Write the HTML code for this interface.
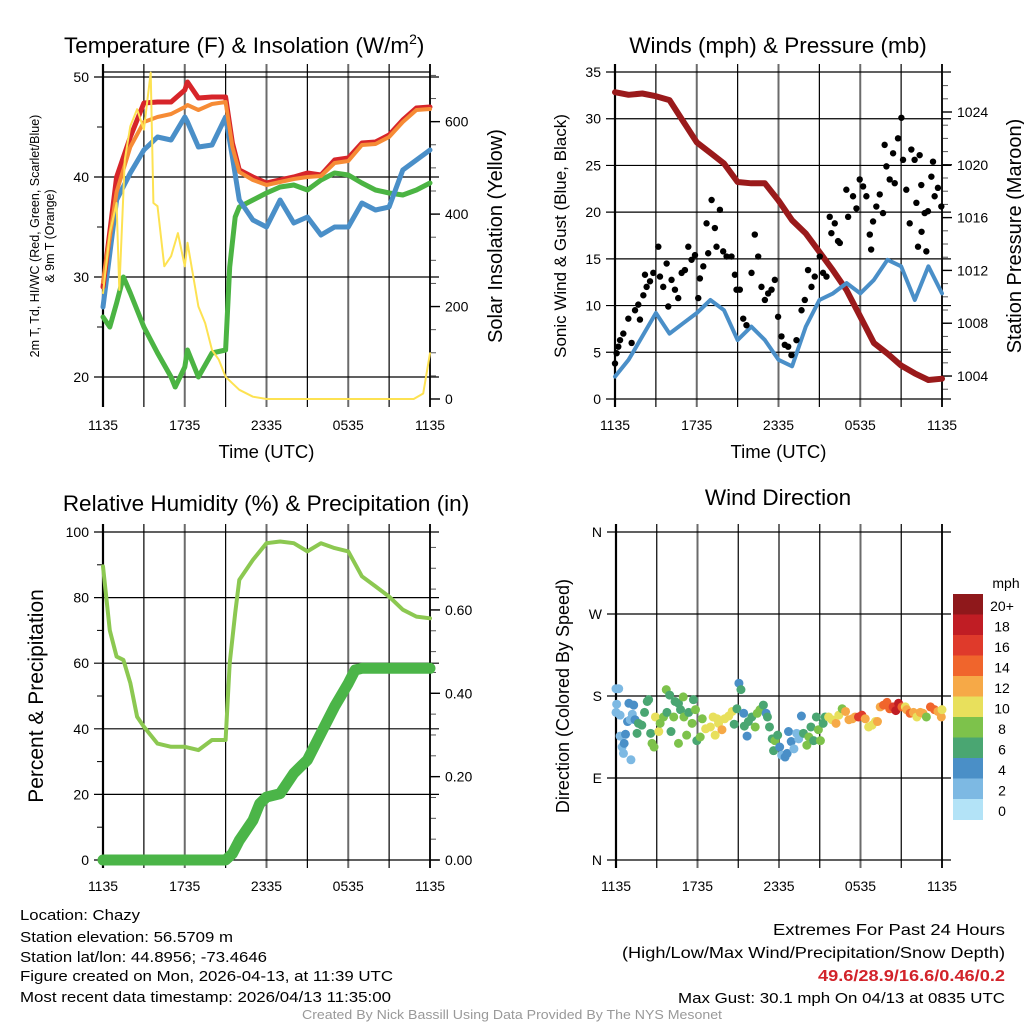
<!DOCTYPE html>
<html><head><meta charset="utf-8"><style>
html,body{margin:0;padding:0;background:#fff;}
svg{display:block;font-family:"Liberation Sans",sans-serif;}
</style></head><body>
<svg id="chart" width="1024" height="1024" viewBox="0 0 1024 1024">
<g id="static"></g>
</svg>
<script>
// ---------- DATA ----------
const timeTicks=[0,6,12,18,24];
const timeTickLabels=["1135","1735","2335","0535","1135"];
// Temperature panel
const tempHours=[0,1,2,3,4,5,6,6.2,7,8,9,9.5,10,11,12,13,14,15,16,17,18,19,20,21,22,23,24];
const tempRed=[29,40,44,47.4,47.5,47.5,48.7,49.5,47.9,48,48,43.4,40.7,40,39.4,39.7,40,40.4,40.2,41.7,41.9,43.4,43.5,44.2,45.7,46.9,47];
const tempOrange=[29.5,38.5,43,45.5,46,46.3,47,47.2,46.7,47.3,47.5,43,40.5,39.7,39.2,39.5,39.8,40,40.1,41.4,41.6,43.2,43.3,44,45.5,46.7,46.8];
const tempBlue=[27,37.7,40.4,42.7,44,43.7,46,45.5,43,43.2,46,42,37.7,35.7,35,37.7,35.4,36,34.2,35,35,37.4,36.7,37,40.7,41.7,42.7];
const greenHours=[0,0.5,1,1.5,2,3,4,5,5.3,6,6.2,7,8,9,9.3,9.7,10,11,12,13,14,15,16,17,18,19,20,21,22,23,24];
const dewGreen=[26,25,27.4,30,28.4,25,22.4,20,19,21,22.7,20,22.4,22.7,31,36,37,37.7,38.4,39,39.2,38.7,39.7,40.4,40.2,39.4,38.7,38.4,38.2,38.7,39.4];
const solarHours=[0,0.5,1,1.2,1.6,2,2.5,3,3.5,3.7,4,4.5,5,5.5,6,6.2,7,7.5,8,8.5,9,9.5,10,11,12,22.8,23.5,24];
const solarVals=[229,359,424,236,518,590,627,583,706,424,417,287,309,359,287,338,200,164,106,85,48,34,20,5,0,0,12,99];
// Winds panel
const windHours=[0,1,2,3,4,5,6,7,8,9,10,11,12,13,14,15,16,17,18,19,20,21,22,23,24];
const windSpeed=[2.4,4.2,6.7,9.2,7,8.1,9.2,10.6,9.5,6.3,7.75,6.3,4.2,3.5,7.75,10.6,11.3,12.4,11.3,12.75,14.9,14.2,10.6,14.2,11.3];
const pressure=[1025.5,1025.3,1025.4,1025.2,1024.9,1023.3,1021.7,1020.9,1020.1,1018.7,1018.6,1018.6,1017.3,1015.8,1014.8,1013.4,1012.0,1010.5,1008.5,1006.5,1005.7,1004.8,1004.2,1003.7,1003.8];
const gustHours=[0,0.12,0.24,0.37,0.61,0.98,1.22,1.47,1.71,1.83,2.08,2.2,2.32,2.57,2.81,3.18,3.3,3.54,3.79,3.91,4.15,4.4,4.64,4.89,5.13,5.38,5.62,5.87,6.11,6.23,6.48,6.72,6.84,7.09,7.33,7.45,7.7,7.94,8.19,8.55,8.8,8.92,9.16,9.41,9.65,10.02,10.26,10.51,10.75,11,11.24,11.49,11.73,11.97,12.22,12.46,12.71,12.95,13.32,13.69,13.93,14.17,14.42,14.66,15.03,15.27,15.52,15.76,15.88,16.13,16.37,16.5,16.98,17.11,17.47,17.72,17.96,18.21,18.45,18.7,18.8,18.94,19.18,19.43,19.67,19.79,19.92,20.16,20.41,20.53,20.77,21.02,21.14,21.38,21.63,21.75,21.99,22.12,22.24,22.36,22.48,22.5,22.73,22.85,22.97,23.22,23.34,23.46,23.7,23.95];
const gustVals=[3.8,4.9,5.6,6.3,7,8.6,6,9.5,10.1,8.5,11.1,13.3,12,12.6,13.5,16.3,13.1,12,14.5,9.9,12.75,11.7,10.8,13.5,13.8,16.3,14.9,15.4,10.8,12.9,14.2,18.8,15.6,21.3,18.3,16.3,20.25,15.8,15.25,15.25,13.3,11.7,11.7,8.6,7.9,13.5,17.6,15.25,12,10.6,11.3,11.7,12.75,8.8,6.7,5.8,5.6,4.7,6.3,9.5,10.6,13.8,12,13.1,15.25,13.5,13.1,19.5,17.75,18.8,16.9,16.7,22.4,19.5,21.7,20.4,23.5,22.75,21.7,17.6,16,19,20.6,21.9,19.9,27.2,24.9,23.5,26.3,23.1,27.9,30.1,25.6,22.4,18.8,26.7,25.6,21,16.3,26.1,22.9,17.9,19.9,15.8,20.1,23.8,25.4,21.7,22.6,20.6];
// RH / precip panel
const rhHours=[0,0.5,1,1.5,2,2.5,3,4,5,6,7,8,9,9.3,9.7,10,11,12,13,14,15,16,17,18,19,20,21,22,23,24];
const rhVals=[89.5,70,62,61,54,43.7,40.6,35.5,34.5,34.5,33.5,36.6,36.6,60,75.3,85.4,91.5,96.6,97.1,96.6,94.1,96.6,95.1,94.1,86.5,83.4,80.3,76.3,74.2,73.7];
const precipHours=[0,9,9.5,10,11,11.5,12,13,14,14.5,15,16,17,18,18.5,19,24];
const precipVals=[0,0,0.015,0.047,0.095,0.135,0.151,0.159,0.208,0.224,0.24,0.304,0.368,0.424,0.456,0.46,0.46];
// Wind direction panel
const dirHours=[0,0.2,0.05,0,0.3,0.3,0.45,0.55,1.1,0.7,0.6,0.85,0.95,1.3,1.2,1.05,1.4,1.65,1.55,1.9,2.1,2.3,2.4,2.55,2.65,2.8,2.9,3.15,3.25,3.5,3.7,3.75,3.95,4.05,4.25,4.35,4.6,4.75,4.6,4.95,5,5.2,5.35,5.6,5.7,5.85,5.95,6.2,6.35,6.6,6.95,7.15,7.3,7.45,7.55,7.8,8,8.3,8.55,8.7,8.9,9.05,9.2,9.4,9.45,9.65,9.75,10,10.25,10.4,10.6,10.85,11.05,11.15,11.3,11.5,11.6,11.7,11.9,12.05,12.2,12.45,12.6,12.7,12.9,13.1,13.3,13.45,13.65,13.8,14.05,14.2,14.35,14.55,14.75,14.9,15.05,15.25,15.4,15.65,15.9,16.2,16.4,16.65,16.9,17.15,17.4,17.6,17.85,18.1,18.35,18.6,18.85,19.1,19.25,19.45,19.7,19.95,20.15,20.4,20.6,20.8,21.05,21.3,21.4,21.65,21.9,22.15,22.4,22.6,22.85,23.15,23.45,23.7,23.95,24];
const dirDeg=[188,188,171,162,159,136,124,117,110,138,128,152,172,170,160,154,154,150,139,148,162,174,176,139,128,124,157,141,150,157,187,162,181,141,157,174,172,165,128,179,157,137,162,150,176,165,131,135,155,144,146,157,137,155,150,143,155,158,163,149,166,194,187,161,147,136,152,157,146,161,165,170,161,157,146,133,120,131,137,124,115,113,117,141,130,122,139,133,158,139,126,135,146,131,157,143,131,150,157,157,154,150,159,166,163,154,155,157,157,159,155,146,148,152,152,168,170,173,166,168,164,172,168,168,165,161,162,157,162,161,157,168,165,163,157,165];
const dirSpeed=[2.5,2.5,2.5,2.5,2.5,2.5,2.5,2.5,2.5,4,4,4,4,4,3,3,5,6,6,7,6,6,6,7,8,8,10,11,8,8,8,6,7,6,8,6,6,6,8,8,8,8,7,8,6,8,6,8,8,10,10,10,10,10,10,13,10,10,10,6,6,4,6,4,6,4,6,6,8,8,8,6,4,6,6,6,6,8,6,4,3,4,4,4,4,3,3,3,4,6,8,8,6,6,6,8,8,6,6,10,10,12,10,8,12,12,12,12,16,16,12,10,10,10,12,12,14,14,14,16,18,18,14,10,12,14,12,10,12,12,8,14,14,12,12,10];
const speedBinLabels=["0","2","4","6","8","10","12","14","16","18","20+"];
const speedColors=["#b3e3f7","#7db9e3","#4a8fc7","#4aa672","#7dc24b","#e8e05c","#f6a947","#f0652c","#df3a2b","#c01d24","#8f181b"];

// ---------- HELPERS ----------
const NS="http://www.w3.org/2000/svg";
const svg=document.getElementById('chart');
function mk(tag,attrs,parent){const e=document.createElementNS(NS,tag);for(const k in attrs)e.setAttribute(k,attrs[k]);(parent||svg).appendChild(e);return e;}
function txt(s,x,y,size,attrs){const e=mk('text',Object.assign({x:x,y:y,'font-size':size,fill:'#000'},attrs||{}));e.textContent=s;return e;}
function line(x1,y1,x2,y2,stroke,w){return mk('line',{x1:x1,y1:y1,x2:x2,y2:y2,stroke:stroke,'stroke-width':w});}

const P={
 tl:{x0:103,x1:430,y0:72,y1:399,lmin:17.8,lmax:50.5,rmin:0,rmax:707.4},
 tr:{x0:615,x1:942,y0:72,y1:399,lmin:0,lmax:35,rmin:1002.26,rmax:1027.03},
 bl:{x0:103,x1:430,y0:532,y1:860,lmin:0,lmax:100,rmin:0,rmax:0.787},
 br:{x0:616,x1:942,y0:532,y1:860,lmin:0,lmax:360}
};
function X(p,t){return p.x0+(p.x1-p.x0)*t/24;}
function YL(p,v){return p.y1-(v-p.lmin)/(p.lmax-p.lmin)*(p.y1-p.y0);}
function YR(p,v){return p.y1-(v-p.rmin)/(p.rmax-p.rmin)*(p.y1-p.y0);}
function pathFrom(p,hours,vals,yf){return hours.map((h,i)=>(i?'L':'M')+X(p,h).toFixed(1)+' '+yf(p,vals[i]).toFixed(1)).join(' ');}

function timeAxis(p,prefix,titleY){
  for(let h=0;h<=24;h+=3){
    const major=h%6===0;
    const gl=line(X(p,h),p.y0-8,X(p,h),p.y1+8,major?'#6b6b6b':'#000',major?2:1.2);
    
    
  }
  timeTicks.forEach((h,i)=>{
    const t=txt(timeTickLabels[i],X(p,h),p.y1+31,14,{'text-anchor':'middle'});
    
    
  });
  if(titleY){const t=txt('Time (UTC)',(p.x0+p.x1)/2,titleY,18.5,{'text-anchor':'middle'});
    
    }
}
function hgrid(p,prefix,vals,labels,minor){
  vals.forEach((v,i)=>{
    const y=YL(p,v);
    const g=line(p.x0-9,y,p.x1+9,y,'#000',1.2);
    
    
    if(labels){const t=txt(labels[i],p.x0-14,y+5,14,{'text-anchor':'end'});
      
      }
  });
  (minor||[]).forEach(v=>{const m=line(p.x0-6,YL(p,v),p.x0,YL(p,v),'#000',1);
    
    });
}
function rightAxis(p,prefix,majors,labels,minorStep){
  for(let v=Math.ceil(p.rmin/minorStep)*minorStep;v<=p.rmax+1e-9;v+=minorStep){
    const y=YR(p,v);
    const m=line(p.x1,y,p.x1+6,y,'#555',1);
    
    
  }
  majors.forEach((v,i)=>{const y=YR(p,v);
    const m=line(p.x1,y,p.x1+10,y,'#000',1.4);
    
    
    const t=txt(labels[i],p.x1+15,y+5,14);
    
    });
}
function frame(p,prefix){
  const a=line(p.x0,p.y0-8,p.x0,p.y1+8,'#000',2.2);
  
  
  const b=line(p.x1,p.y0-8,p.x1,p.y1+8,'#000',1.6);
  
  
}
function vtitle(s,x,y,size,name){const t=txt(s,x,y,size,{'text-anchor':'middle',transform:'rotate(-90 '+x+' '+y+')'});
  
  return t;}
function title(s,x,y,name){const t=txt(s,x,y,22.5,{'text-anchor':'middle'});
  
  return t;}
function series(p,hours,vals,yf,color,w,name){const e=mk('path',{d:pathFrom(p,hours,vals,yf),fill:'none',stroke:color,'stroke-width':w,'stroke-linejoin':'round','stroke-linecap':'round'});
  
  return e;}

// ---------- TOP-LEFT: TEMPERATURE ----------
(function(){const p=P.tl;
  timeAxis(p,'temp',458);
  hgrid(p,'temp',[20,30,40,50],['20','30','40','50'],[25,35,45]);
  const top=line(p.x0,p.y0,p.x1,p.y0,'#000',1.2);
  
  
  rightAxis(p,'temp',[0,200,400,600],['0','200','400','600'],50);
  frame(p,'temp');
  series(p,greenHours,dewGreen,YL,'#4bb443',5,'dewpoint-line');
  series(p,tempHours,tempBlue,YL,'#4a8fc8',5,'windchill-line');
  series(p,tempHours,tempRed,YL,'#d7252a',5,'temperature-line');
  series(p,tempHours,tempOrange,YL,'#f68b35',4,'temperature-9m-line');
  series(p,solarHours,solarVals,YR,'#fde252',2,'solar-insolation-line');
  const t=txt('Temperature (F) & Insolation (W/m',64,53,22.5);
  
  
  const ts=mk('tspan',{dy:-9,'font-size':14});ts.textContent='2';t.appendChild(ts);
  const ts2=mk('tspan',{dy:9,'font-size':22.5});ts2.textContent=')';t.appendChild(ts2);
  vtitle('2m T, T\u2090, HI/WC (Red, Green, Scarlet/Blue)',39,236,12.5,'temp-y-axis-title-line1').textContent='2m T, Td, HI/WC (Red, Green, Scarlet/Blue)';
  vtitle('& 9m T (Orange)',54,236,12.5,'temp-y-axis-title-line2');
  vtitle('Solar Insolation (Yellow)',502,236,20,'solar-y-axis-title');
})();

// ---------- TOP-RIGHT: WINDS ----------
(function(){const p=P.tr;
  timeAxis(p,'wind',458);
  hgrid(p,'wind',[0,5,10,15,20,25,30,35],['0','5','10','15','20','25','30','35']);
  rightAxis(p,'wind',[1004,1008,1012,1016,1020,1024],['1004','1008','1012','1016','1020','1024'],1);
  frame(p,'wind');
  series(p,windHours,pressure,YR,'#9a1a1b',6,'pressure-line');
  series(p,windHours,windSpeed,YL,'#4a8fc8',4,'wind-speed-line');
  gustHours.forEach((h,i)=>{
    const c=mk('circle',{cx:X(p,h),cy:YL(p,gustVals[i]),r:3.2,fill:'#000'});
    
    
  });
  title('Winds (mph) & Pressure (mb)',778,53,'winds-panel-title');
  vtitle('Sonic Wind & Gust (Blue, Black)',566,236,17,'wind-y-axis-title');
  vtitle('Station Pressure (Maroon)',1021,236,20,'pressure-y-axis-title');
})();

// ---------- BOTTOM-LEFT: RH ----------
(function(){const p=P.bl;
  timeAxis(p,'rh',null);
  hgrid(p,'rh',[0,20,40,60,80,100],['0','20','40','60','80','100'],[10,30,50,70,90]);
  rightAxis(p,'rh',[0,0.2,0.4,0.6],['0.00','0.20','0.40','0.60'],0.05);
  frame(p,'rh');
  series(p,rhHours,rhVals,YL,'#8cc851',4,'relative-humidity-line');
  series(p,precipHours,precipVals,YR,'#4bb548',11,'precipitation-line');
  title('Relative Humidity (%) & Precipitation (in)',266,511,'rh-panel-title');
  vtitle('Percent & Precipitation',43,696,21,'rh-y-axis-title');
})();

// ---------- BOTTOM-RIGHT: WIND DIRECTION ----------
(function(){const p=P.br;
  timeAxis(p,'dir',null);
  hgrid(p,'dir',[0,90,180,270,360],['N','E','S','W','N']);
  frame(p,'dir');
  dirHours.forEach((h,i)=>{
    const bin=Math.min(10,Math.max(0,Math.floor(dirSpeed[i]/2)));
    const c=mk('circle',{cx:X(p,h),cy:YL(p,dirDeg[i]),r:4.5,fill:speedColors[bin]});
    
    
  });
  title('Wind Direction',778,505,'direction-panel-title');
  vtitle('Direction (Colored By Speed)',569,696,18,'direction-y-axis-title');
  // colorbar
  const cb0=594,cbH=20.5;
  for(let k=0;k<11;k++){
    const idx=10-k;
    const r=mk('rect',{x:953,y:cb0+k*cbH,width:30,height:cbH+0.5,fill:speedColors[idx]});
    
    
    const t=txt(speedBinLabels[idx],1002,cb0+k*cbH+17,14,{'text-anchor':'middle'});
    
    
  }
  const m=txt('mph',1006,588,14,{'text-anchor':'middle'});
  
  
})();

// ---------- FOOTER TEXT ----------
const leftInfo=[["Location: Chazy",120],["Station elevation: 56.5709 m",213],["Station lat/lon: 44.8956; -73.4646",247],["Figure created on Mon, 2026-04-13, at 11:39 UTC",373],["Most recent data timestamp: 2026/04/13 11:35:00",371]];
const leftY=[920,942,962,981,1002];
leftInfo.forEach((d,i)=>{const t=txt(d[0],20,leftY[i],15,{textLength:d[1],lengthAdjust:'spacingAndGlyphs'});
  
  });
const rightInfo=[["Extremes For Past 24 Hours",232,935,16,'#000'],["(High/Low/Max Wind/Precipitation/Snow Depth)",383,958,16,'#000'],["49.6/28.9/16.6/0.46/0.2",187,981,16,'#d2232a'],["Max Gust: 30.1 mph On 04/13 at 0835 UTC",327,1003,15,'#000']];
rightInfo.forEach((d,i)=>{const t=txt(d[0],1005-d[1],d[2],d[3],{textLength:d[1],lengthAdjust:'spacingAndGlyphs',fill:d[4]});
  if(i===2)t.setAttribute('font-weight','bold');
  
  });
const foot=txt('Created By Nick Bassill Using Data Provided By The NYS Mesonet',302,1019,12.5,{textLength:420,lengthAdjust:'spacingAndGlyphs',fill:'#999'});


</script>
</body></html>
